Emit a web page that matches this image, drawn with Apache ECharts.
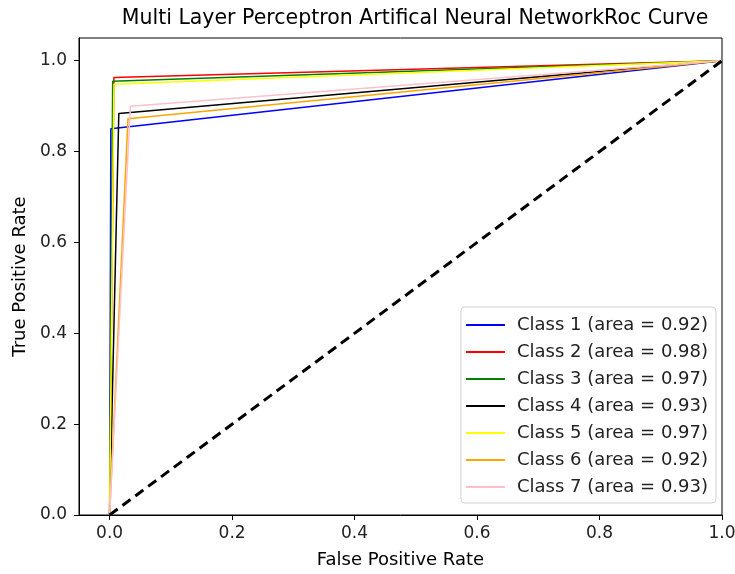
<!DOCTYPE html>
<html><head><meta charset="utf-8">
<script src="https://cdn.jsdelivr.net/npm/echarts@6/dist/echarts.min.js"></script>
<style>html,body{margin:0;padding:0;background:#fff}#c{width:735px;height:574px}</style>
</head><body><div id="c"></div>
<script>
const classNames = ['Class 1','Class 2','Class 3','Class 4','Class 5','Class 6','Class 7'];
const areas = ['0.92','0.98','0.97','0.93','0.97','0.92','0.93'];
const colors = ['blue','red','green','black','yellow','orange','pink'];
const fprPoints = [[0,0.002,1],[0,0.007,1],[0,0.005,1],[0,0.015,1],[0,0.007,1],[0,0.030,1],[0,0.034,1]];
const tprPoints = [[0,0.850,1],[0,0.963,1],[0,0.955,1],[0,0.884,1],[0,0.948,1],[0,0.872,1],[0,0.900,1]];
const diagX = [0,1];
const diagY = [0,1];
const tickValues = [0,0.2,0.4,0.6,0.8,1.0];

const font = 'DejaVu Sans';
const series = classNames.map((n,i)=>({
  name: n + ' (area = ' + areas[i] + ')',
  type:'line', symbol:'none', animation:false,
  lineStyle:{color:colors[i], width:1.5},
  itemStyle:{color:colors[i]},
  data: fprPoints[i].map((x,j)=>[x,tprPoints[i][j]])
}));
series.push({
  name:'diag', type:'line', symbol:'none', animation:false,
  lineStyle:{color:'#000', width:3, type:[10,6]},
  data: diagX.map((x,j)=>[x,diagY[j]]), z:3
});
const chart = echarts.init(document.getElementById('c'));
chart.setOption({
  animation:false,
  title:{text:'Multi Layer Perceptron Artifical Neural NetworkRoc Curve', left:410, top:3, textAlign:'center',
    textStyle:{fontFamily:font, fontSize:20.5, fontWeight:'normal', color:'#000'}},
  grid:{left:79, right:13, top:38, bottom:59, outerBoundsMode:'none', containLabel:false,
    show:true, borderColor:'#000', borderWidth:1, backgroundColor:'transparent'},
  legend:{
    data: series.slice(0,7).map(s=>({name:s.name, icon:'rect'})),
    orient:'vertical', right:19, bottom:71, itemWidth:39, itemHeight:2, itemGap:7,
    padding:[8,8,6,5], borderColor:'#d0d0d0', borderWidth:1, borderRadius:4, backgroundColor:'rgba(255,255,255,0.8)',
    textStyle:{fontFamily:font, fontSize:18, lineHeight:20, color:'#222', padding:[0,0,0,7]}
  },
  xAxis:{type:'value', min:-0.05, max:1.0,
    name:'False Positive Rate', nameLocation:'middle', nameGap:36,
    nameTextStyle:{fontFamily:font, fontSize:18, color:'#000'},
    axisLine:{onZero:false, lineStyle:{color:'#000'}},
    axisTick:{show:true, length:5, customValues:tickValues, lineStyle:{color:'#000'}},
    axisLabel:{customValues:tickValues, formatter:v=>v.toFixed(1), fontFamily:font, fontSize:17, color:'#222', margin:10},
    splitLine:{show:false}},
  yAxis:{type:'value', min:0, max:1.05,
    name:'True Positive Rate', nameLocation:'middle', nameGap:50,
    nameTextStyle:{fontFamily:font, fontSize:18, color:'#000'},
    axisLine:{show:true, onZero:false, lineStyle:{color:'#000'}},
    axisTick:{show:true, length:5, customValues:tickValues, lineStyle:{color:'#000'}},
    axisLabel:{customValues:tickValues, formatter:v=>v.toFixed(1), fontFamily:font, fontSize:17, color:'#222', margin:12},
    splitLine:{show:false}},
  series: series
});
</script></body></html>
